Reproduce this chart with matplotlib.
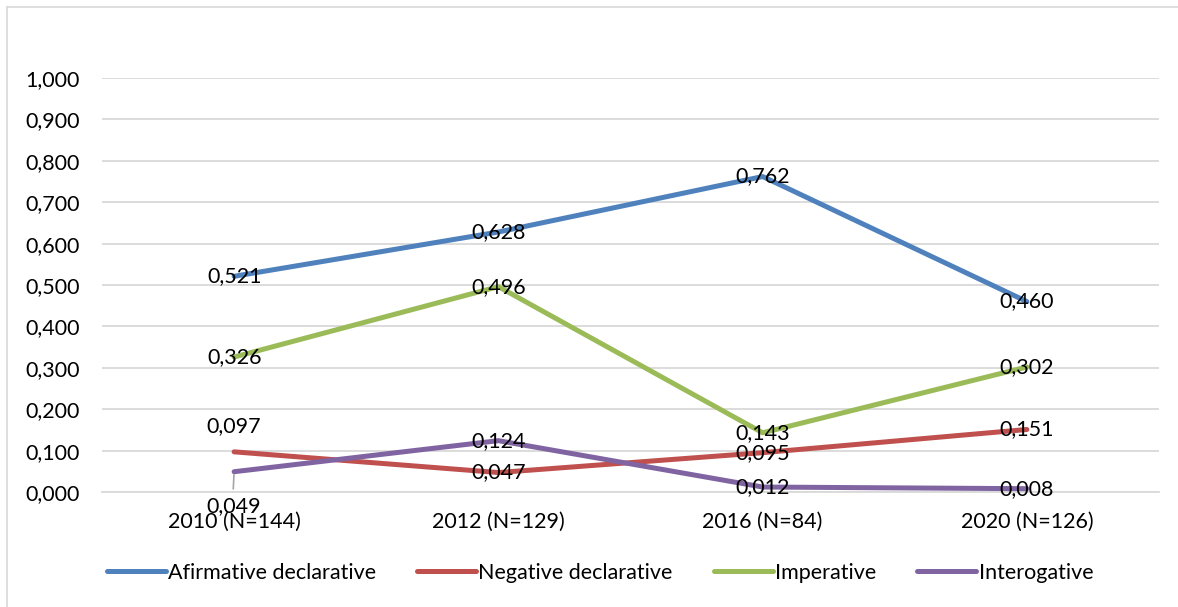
import matplotlib.pyplot as plt
from matplotlib.lines import Line2D
from matplotlib.ticker import FuncFormatter, MultipleLocator

# data
years = ["2010 (N=144)", "2012 (N=129)", "2016 (N=84)", "2020 (N=126)"]
afirmative = [0.521, 0.628, 0.762, 0.460]
negative = [0.097, 0.047, 0.095, 0.151]
imperative = [0.326, 0.496, 0.143, 0.302]
interogative = [0.049, 0.124, 0.012, 0.008]

series = [
    ("Afirmative declarative", afirmative, "#4F81BD"),
    ("Negative declarative", negative, "#C0504D"),
    ("Imperative", imperative, "#9BBB59"),
    ("Interogative", interogative, "#8064A2"),
]

plt.rcParams['font.family'] = ['Lato', 'DejaVu Sans']
FS = 15.5


def comma(v):
    return f"{v:.3f}".replace(".", ",")


fig = plt.figure(figsize=(11.78, 6.07), dpi=100)
ax = fig.add_axes([102 / 1178, 1 - 492 / 607, (1159 - 102) / 1178, (492 - 78) / 607])

x = list(range(len(years)))
for name, vals, col in series:
    ax.plot(x, vals, color=col, lw=3.6, label=name, solid_capstyle="round", zorder=3)

# value labels centred on the points, two of them moved off the crossing lines
for name, vals, col in series:
    for i, v in enumerate(vals):
        dy = 0
        if name == "Negative declarative" and i == 0:
            dy = 26
        if name == "Interogative" and i == 0:
            dy = -34
        ax.annotate(comma(v), (i, v), xytext=(0, dy), textcoords="offset pixels",
                    ha="center", va="center", fontsize=FS, color="black", zorder=5)

# leader line for the moved 2010 interogative label
ax.annotate("", (0, interogative[0]), xytext=(-1, -20), textcoords="offset pixels",
            arrowprops=dict(arrowstyle="-", color="#a6a6a6", lw=1.2), zorder=4)

ax.set_xlim(-0.5, 3.5)
ax.set_ylim(0, 1.0)
ax.yaxis.set_major_locator(MultipleLocator(0.1))
ax.yaxis.set_major_formatter(FuncFormatter(lambda v, p: comma(v)))
ax.set_xticks(x)
ax.set_xticklabels(years)
ax.tick_params(axis="both", length=0, labelsize=FS)
ax.tick_params(axis="y", pad=16)
ax.tick_params(axis="x", pad=14)
ax.grid(axis="y", color="#d9d9d9", lw=1.3)
ax.set_axisbelow(True)
for s in ["left", "right", "top"]:
    ax.spines[s].set_visible(False)
ax.spines["bottom"].set_color("#d9d9d9")
ax.spines["bottom"].set_linewidth(1.3)

fig.legend(loc="center", bbox_to_anchor=(600 / 1178, 1 - 573 / 607), ncol=4, frameon=False,
           fontsize=FS, handlelength=2.75, handletextpad=0.1, columnspacing=1.9)

# chart frame edges
fig.add_artist(Line2D([7 / 1178, 1], [1 - 7 / 607, 1 - 7 / 607], color="#d9d9d9", lw=1.2))
fig.add_artist(Line2D([7 / 1178, 7 / 1178], [0, 1 - 7 / 607], color="#d9d9d9", lw=1.2))

fig.savefig("out.png", dpi=100)
